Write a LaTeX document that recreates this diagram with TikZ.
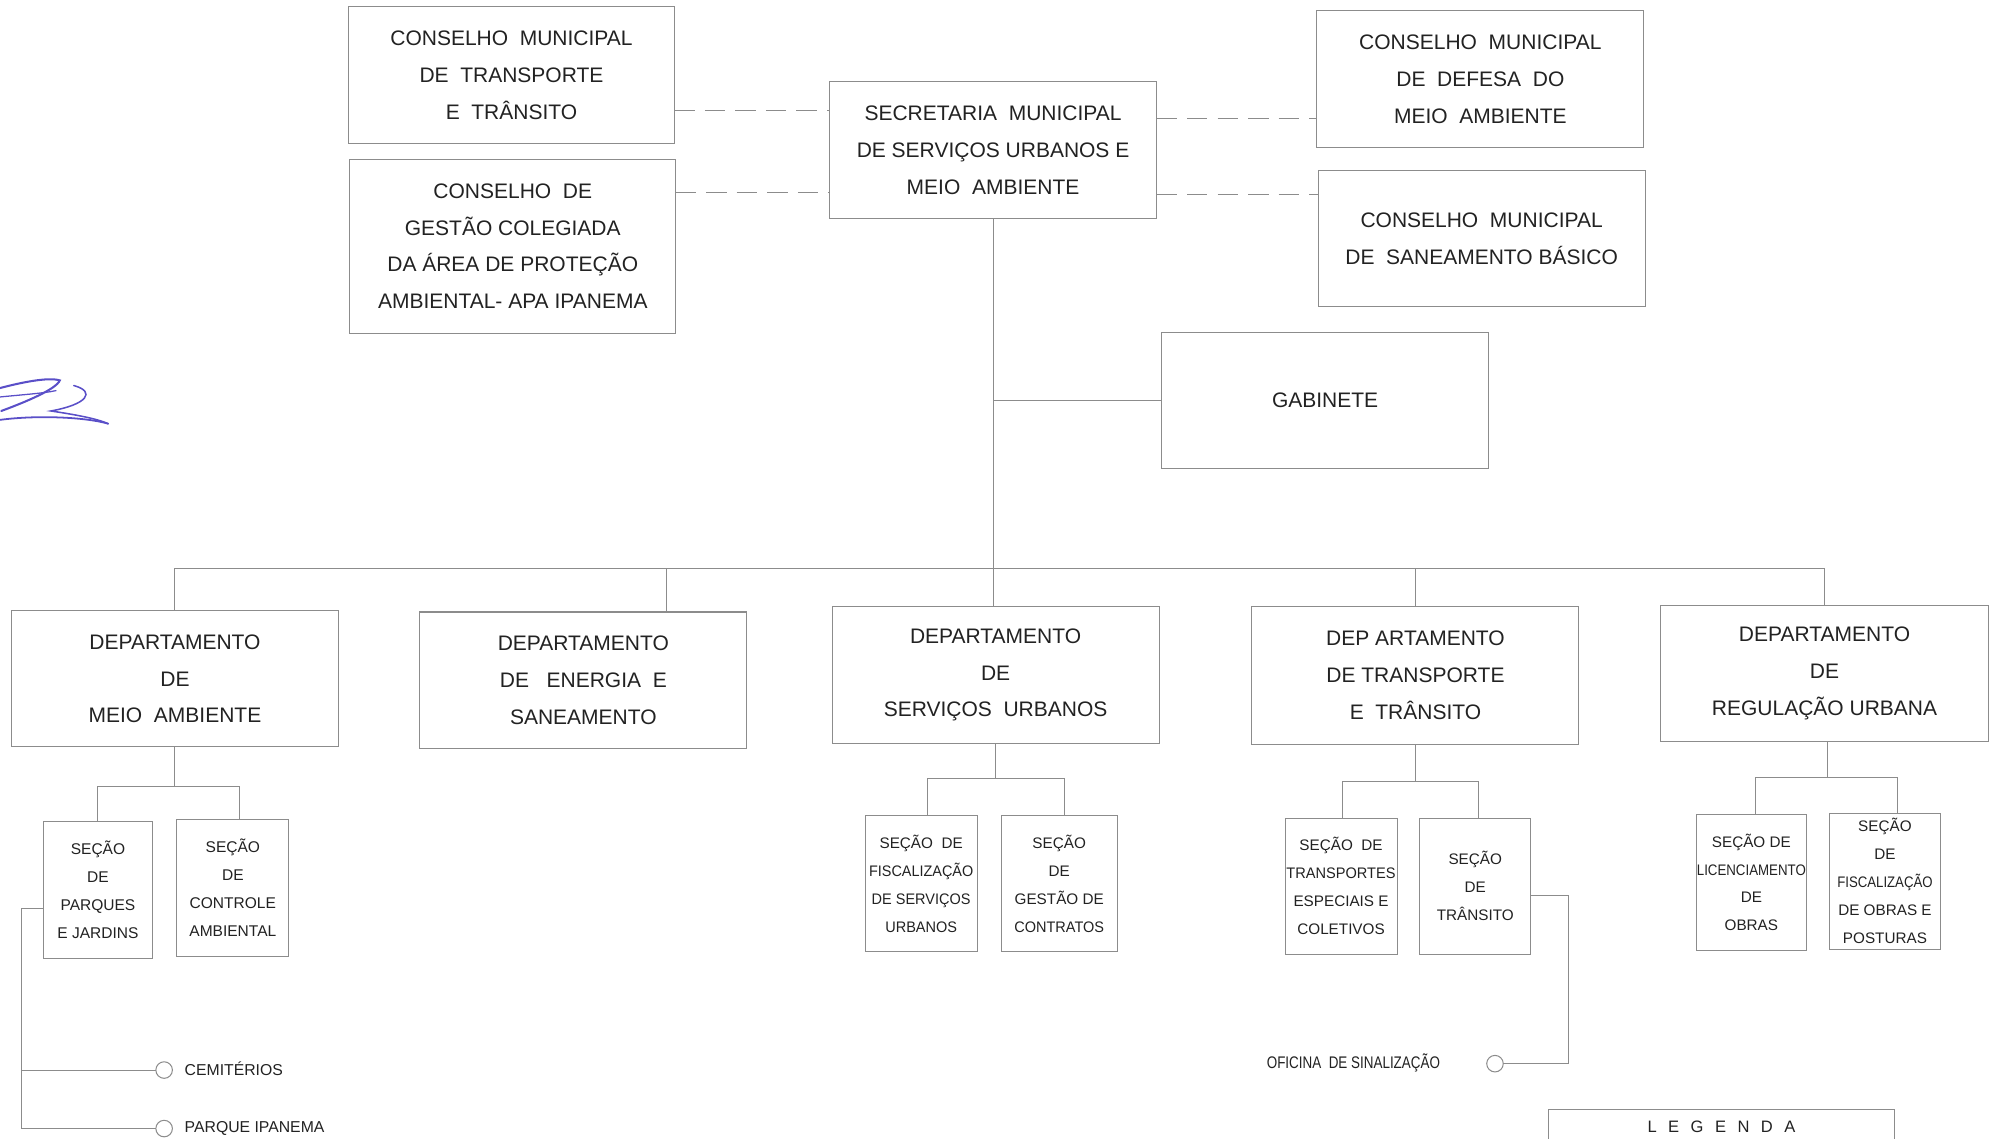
\documentclass[tikz,border=0pt]{standalone}
\usepackage{fontspec}
\usepackage{graphicx}
\setmainfont{Liberation Sans}
\usetikzlibrary{calc}
\definecolor{ln}{HTML}{8C8C8C}
\definecolor{tx}{HTML}{222222}
\definecolor{sig}{HTML}{5A4FC8}
\newcommand{\nrw}[2]{\scalebox{#1}[1]{#2}}
\begin{document}
\begin{tikzpicture}[x=1pt,y=-1pt,
  box/.style={draw=ln, line width=0.8pt, rectangle, inner sep=0pt, outer sep=0pt, align=center, text=tx},
  big/.style={box, font=\fontsize{16.5}{29}\selectfont},
  sec/.style={box, font=\fontsize{12}{22}\selectfont},
  secb/.style={box, font=\fontsize{12.2}{22}\selectfont},
  link/.style={draw=ln, line width=0.8pt},
  dashlink/.style={draw=ln, line width=0.8pt, dash pattern=on 16pt off 8pt},
  circ/.style={circle, draw=ln, line width=0.8pt, minimum size=13pt, inner sep=0pt, outer sep=0pt},
  lbl/.style={text=tx, inner sep=0pt, font=\fontsize{12.4}{14}\selectfont}]

\useasboundingbox (0,0) rectangle (1568,895);
\fill[white] (0,0) rectangle (1568,895);

% top level
\node[big, minimum width=256pt, minimum height=108pt] (cmtt) at (402,59) {CONSELHO\ \ MUNICIPAL\\DE\ \ TRANSPORTE\\E\ \ TRÂNSITO};
\node[big, minimum width=256pt, minimum height=137pt] (cgc) at (403,193.5) {CONSELHO\ \ DE\\GESTÃO COLEGIADA\\DA ÁREA DE PROTEÇÃO\\AMBIENTAL- APA IPANEMA};
\node[big, minimum width=257pt, minimum height=108pt] (sec) at (780.5,118) {SECRETARIA\ \ MUNICIPAL\\DE SERVIÇOS URBANOS E\\MEIO\ \ AMBIENTE};
\node[big, minimum width=257pt, minimum height=108pt] (cmdma) at (1163.5,62) {CONSELHO\ \ MUNICIPAL\\DE\ \ DEFESA\ \ DO\\MEIO\ \ AMBIENTE};
\node[big, minimum width=257pt, minimum height=107pt] (cmsb) at (1164.5,187.5) {CONSELHO\ \ MUNICIPAL\\DE\ \ SANEAMENTO BÁSICO};
\node[big, minimum width=257pt, minimum height=107pt] (gab) at (1041.5,314.5) {GABINETE};

% departments
\node[big, minimum width=257pt, minimum height=107pt] (dma) at (137.5,533.5) {DEPARTAMENTO\\DE\\MEIO\ \ AMBIENTE};
\node[big, minimum width=257pt, minimum height=107pt] (des) at (458.5,534.5) {DEPARTAMENTO\\DE\ \ \ ENERGIA\ \ E\\SANEAMENTO};
\node[big, minimum width=257pt, minimum height=107pt] (dsu) at (782.5,530.5) {DEPARTAMENTO\\DE\\SERVIÇOS\ \ URBANOS};
\node[big, minimum width=257pt, minimum height=108pt] (dtt) at (1112.5,531) {DEP ARTAMENTO\\DE TRANSPORTE\\E\ \ TRÂNSITO};
\node[big, minimum width=258pt, minimum height=107pt] (dru) at (1434,529.5) {DEPARTAMENTO\\DE\\REGULAÇÃO URBANA};

% sections
\node[secb, minimum width=86pt, minimum height=107pt] (spj) at (77,699.5) {SEÇÃO\\DE\\PARQUES\\E JARDINS};
\node[secb, minimum width=88pt, minimum height=108pt] (sca) at (183,698) {SEÇÃO\\DE\\CONTROLE\\AMBIENTAL};
\node[sec, minimum width=88pt, minimum height=107pt] (sfsu) at (724,694.5) {SEÇÃO\ \ DE\\\nrw{0.945}{FISCALIZAÇÃO}\\\nrw{0.95}{DE SERVIÇOS}\\\nrw{0.95}{URBANOS}};
\node[sec, minimum width=91pt, minimum height=107pt] (sgc) at (832.5,694.5) {SEÇÃO\\DE\\GESTÃO DE\\\nrw{0.95}{CONTRATOS}};
\node[sec, minimum width=88pt, minimum height=107pt] (stec) at (1054,696.5) {SEÇÃO\ \ DE\\\nrw{0.955}{TRANSPORTES}\\ESPECIAIS E\\COLETIVOS};
\node[sec, minimum width=87pt, minimum height=107pt] (st) at (1159.5,696.5) {SEÇÃO\\DE\\TRÂNSITO};
\node[sec, minimum width=87pt, minimum height=107pt] (slo) at (1376.5,693.5) {SEÇÃO DE\\\nrw{0.87}{LICENCIAMENTO}\\DE\\OBRAS};
\node[sec, minimum width=87pt, minimum height=107pt] (sfop) at (1481.5,692.5) {SEÇÃO\\DE\\\nrw{0.865}{FISCALIZAÇÃO}\\DE OBRAS E\\POSTURAS};

% dashed links to councils
\coordinate (d1) at ([yshift=-28pt]cmtt.east);
\coordinate (d2) at ([yshift=42.5pt]cgc.east);
\coordinate (d3) at ([yshift=25pt]sec.east);
\coordinate (d4) at ([yshift=-35pt]sec.east);
\draw[dashlink] (d1) -- (d1 -| sec.west);
\draw[dashlink] (d2) -- (d2 -| sec.west);
\draw[dashlink] (d3) -- (d3 -| cmdma.west);
\draw[dashlink] (d4) -- (d4 -| cmsb.west);

% trunk, gabinete, bus
\coordinate (bus) at (0,447);
\draw[link] (sec.south) -- (sec.south |- dsu.north);
\draw[link] (gab.west) -- (gab.west -| sec.south);
\draw[link] (dma.north) -- (dma.north |- bus) -- (dru.north |- bus) -- (dru.north);
\coordinate (destop) at ([xshift=65.5pt]des.north);
\draw[link] (destop) -- (destop |- bus);
\draw[link] (dtt.north) -- (dtt.north |- bus);

% department -> sections
\coordinate (m1) at (0,618);
\coordinate (scat) at ([xshift=5pt]sca.north);
\draw[link] (dma.south) -- (dma.south |- m1);
\draw[link] (spj.north) -- (spj.north |- m1) -| (scat);

\coordinate (m2) at (0,612);
\coordinate (sfsut) at ([xshift=5pt]sfsu.north);
\coordinate (sgct) at ([xshift=4.5pt]sgc.north);
\draw[link] (dsu.south) -- (dsu.south |- m2);
\draw[link] (sfsut) -- (sfsut |- m2) -| (sgct);

\coordinate (m3) at (0,614);
\coordinate (stect) at ([xshift=1pt]stec.north);
\coordinate (stt) at ([xshift=2.5pt]st.north);
\draw[link] (dtt.south) -- (dtt.south |- m3);
\draw[link] (stect) -- (stect |- m3) -| (stt);

\coordinate (m4) at (0,611);
\coordinate (drub) at ([xshift=2pt]dru.south);
\coordinate (slot) at ([xshift=3.5pt]slo.north);
\coordinate (sfopt) at ([xshift=9.5pt]sfop.north);
\draw[link] (drub) -- (drub |- m4);
\draw[link] (slot) -- (slot |- m4) -| (sfopt);

% outlying units
\node[circ] (c1) at (129,841) {};
\node[circ] (c2) at (129,887) {};
\node[circ] (c3) at (1175,836) {};
\node[lbl, anchor=west] (lc1) at (145,840) {CEMITÉRIOS};
\node[lbl, anchor=west] (lc2) at (145,887) {PARQUE IPANEMA};
\node[lbl, anchor=east, font=\fontsize{13.2}{15}\selectfont] (lc3) at (1132,835) {\nrw{0.8}{OFICINA\ \ DE SINALIZAÇÃO}};

\coordinate (sx) at (17,0);
\coordinate (b0) at ([yshift=-14.5pt]spj.west);
\draw[link] (b0) -- (b0 -| sx) |- (c2.west);
\draw[link] (c1.west) -- (c1.west -| sx);

\coordinate (tx) at (1233,0);
\coordinate (t0) at ([yshift=-7.5pt]st.east);
\draw[link] (t0) -- (t0 -| tx) |- (c3.east);

% legend (cut off at the bottom)
\draw[link] (1217,900) -- (1217,872) -- (1489,872) -- (1489,900);
\node[lbl, font=\fontsize{13}{15}\selectfont] (leg) at (1353,886) {L\hspace{9pt}E\hspace{9pt}G\hspace{9pt}E\hspace{9pt}N\hspace{9pt}D\hspace{9pt}A};

% signature scribble
\draw[sig, line width=1.6pt, line cap=round] (0,305) .. controls (15,301) and (38,296) .. (47,299) .. controls (44,306) and (20,316) .. (1,323);
\draw[sig, line width=1.4pt, line cap=round] (0,330) .. controls (30,326) and (68,328) .. (85,333);
\draw[sig, line width=1.2pt, line cap=round] (58,303) .. controls (76,308) and (68,318) .. (40,323) .. controls (60,326) and (76,329) .. (85,333);
\draw[sig, line width=1.0pt, line cap=round] (0,312) .. controls (20,310) and (35,309) .. (44,307);
\end{tikzpicture}
\end{document}
